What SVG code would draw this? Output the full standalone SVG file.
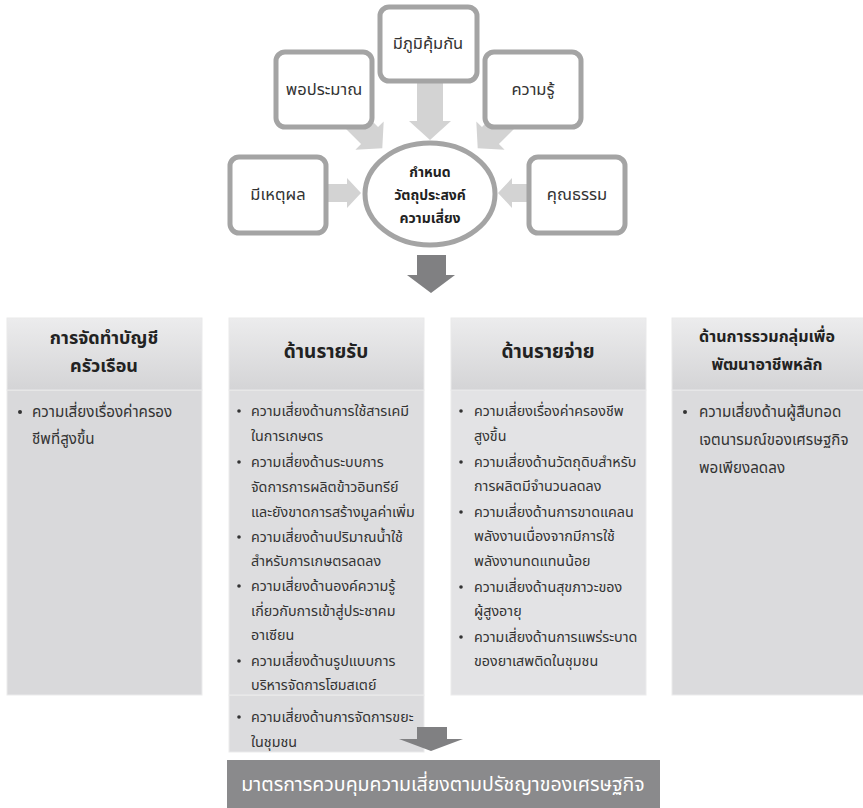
<svg xmlns="http://www.w3.org/2000/svg" width="863" height="808" viewBox="0 0 863 808">
<defs>
<linearGradient id="hdr" x1="0" y1="0" x2="0" y2="1">
<stop offset="0" stop-color="#ececed"/>
<stop offset="1" stop-color="#d4d4d6"/>
</linearGradient>
</defs>
<style>
.box{fill:#fff;stroke:#a4a4a4;stroke-width:5}
.lbl{font-family:"Noto Sans Thai","Noto Sans",sans-serif;font-size:16.5px;fill:#333;text-anchor:middle}
.ctr{font-family:"Noto Sans Thai","Noto Sans",sans-serif;font-size:14px;font-weight:bold;fill:#222;text-anchor:middle}
.la{fill:#d3d3d3}
.da{fill:#808082}
.hd{fill:url(#hdr);stroke:#e9e9ea;stroke-width:1}
.hdt{font-family:"Noto Sans Thai","Noto Sans",sans-serif;font-size:18px;font-weight:bold;fill:#222;text-anchor:middle}
.hdt3{font-family:"Noto Sans Thai","Noto Sans",sans-serif;font-size:19px;font-weight:bold;fill:#222;text-anchor:middle}
.hdt2{font-family:"Noto Sans Thai","Noto Sans",sans-serif;font-size:16px;font-weight:bold;fill:#222;text-anchor:middle}
.bt{font-family:"Noto Sans Thai","Noto Sans",sans-serif;font-size:14.3px;fill:#333}
.bt2{font-family:"Noto Sans Thai","Noto Sans",sans-serif;font-size:15.2px;fill:#333}
.bar{font-family:"Noto Sans Thai","Noto Sans",sans-serif;font-size:19.5px;fill:#fff;text-anchor:middle}
</style>

<g id="col-income-extra">
<rect x="229" y="695" width="195" height="57" fill="#dcdcde" stroke="#ebebec" stroke-width="1"/>
<g class="bt">
<circle cx="239" cy="717" r="1.8" fill="#333"/>
<text x="251" y="722">ความเสี่ยงด้านการจัดการขยะ</text>
<text x="251" y="747">ในชุมชน</text>
</g>
</g>

<g id="connectors">
<path class="la" d="M417,78 H443 V121 H451 L430,140 L409,121 H417 Z"/>
<path class="la" transform="translate(354,120) rotate(-45)" d="M-12,0 H12 V22 H20 L0,40 L-20,22 H-12 Z"/>
<path class="la" transform="translate(506,120) rotate(45)" d="M-12,0 H12 V22 H20 L0,40 L-20,22 H-12 Z"/>
<path class="la" d="M324,184 H347 V178 L361,193 L347,208 V202 H324 Z"/>
<path class="la" d="M532,184 H512 V178 L498,193 L512,208 V202 H532 Z"/>
<path class="da" d="M417,255 H446 V275 H455 L431,293 L407,275 H417 Z"/>
<path class="da" d="M417,727 H447 V739 H463 L431,751 L399,739 H417 Z"/>
</g>

<g id="node-porpraman">
<rect class="box" x="276" y="52" width="96" height="75" rx="9"/>
<text class="lbl" x="324" y="95">พอประมาณ</text>
</g>
<g id="node-mipumkumkan">
<rect class="box" x="380" y="7" width="97" height="74" rx="9"/>
<text class="lbl" x="428" y="49">มีภูมิคุ้มกัน</text>
</g>
<g id="node-khwamru">
<rect class="box" x="485" y="52" width="96" height="75" rx="9"/>
<text class="lbl" x="533" y="95">ความรู้</text>
</g>
<g id="node-mihetphon">
<rect class="box" x="230" y="157" width="96" height="76" rx="9"/>
<text class="lbl" x="278" y="200">มีเหตุผล</text>
</g>
<g id="node-khunnatham">
<rect class="box" x="529" y="157" width="96" height="76" rx="9"/>
<text class="lbl" x="577" y="200">คุณธรรม</text>
</g>
<g id="node-center">
<ellipse cx="430" cy="194" rx="65" ry="51" fill="#fff" stroke="#a4a4a4" stroke-width="5"/>
<text class="ctr" x="430" y="177">กำหนด</text>
<text class="ctr" x="430" y="200">วัตถุประสงค์</text>
<text class="ctr" x="430" y="223">ความเสี่ยง</text>
</g>

<g id="col-account">
<rect x="7" y="390" width="195" height="305" fill="#d9d9db" stroke="#ebebec" stroke-width="1"/>
<rect class="hd" x="7" y="318" width="195" height="72"/>
<text class="hdt" x="104" y="344">การจัดทำบัญชี</text>
<text class="hdt" x="104" y="372">ครัวเรือน</text>
<circle cx="20" cy="412" r="2" fill="#333"/>
<text class="bt2" x="32" y="417">ความเสี่ยงเรื่องค่าครอง</text>
<text class="bt2" x="32" y="444">ชีพที่สูงขึ้น</text>
</g>

<g id="col-income">
<rect x="229" y="390" width="195" height="305" fill="#dddddf" stroke="#ebebec" stroke-width="1"/>
<rect class="hd" x="229" y="318" width="195" height="72"/>
<text class="hdt3" x="326" y="358">ด้านรายรับ</text>
<g class="bt">
<circle cx="239" cy="411" r="1.8" fill="#333"/>
<text x="251" y="416">ความเสี่ยงด้านการใช้สารเคมี</text>
<text x="251" y="441">ในการเกษตร</text>
<circle cx="239" cy="462" r="1.8" fill="#333"/>
<text x="251" y="467">ความเสี่ยงด้านระบบการ</text>
<text x="251" y="492">จัดการการผลิตข้าวอินทรีย์</text>
<text x="251" y="517">และยังขาดการสร้างมูลค่าเพิ่ม</text>
<circle cx="239" cy="537" r="1.8" fill="#333"/>
<text x="251" y="542">ความเสี่ยงด้านปริมาณน้ำใช้</text>
<text x="251" y="566">สำหรับการเกษตรลดลง</text>
<circle cx="239" cy="586" r="1.8" fill="#333"/>
<text x="251" y="591">ความเสี่ยงด้านองค์ความรู้</text>
<text x="251" y="616">เกี่ยวกับการเข้าสู่ประชาคม</text>
<text x="251" y="640">อาเซียน</text>
<circle cx="239" cy="661" r="1.8" fill="#333"/>
<text x="251" y="666">ความเสี่ยงด้านรูปแบบการ</text>
<text x="251" y="690">บริหารจัดการโฮมสเตย์</text>
</g>
</g>

<g id="col-expense">
<rect x="451" y="390" width="195" height="305" fill="#e3e3e5" stroke="#ebebec" stroke-width="1"/>
<rect class="hd" x="451" y="318" width="195" height="72"/>
<text class="hdt3" x="548" y="358">ด้านรายจ่าย</text>
<g class="bt">
<circle cx="461" cy="411" r="1.8" fill="#333"/>
<text x="474" y="416">ความเสี่ยงเรื่องค่าครองชีพ</text>
<text x="474" y="441">สูงขึ้น</text>
<circle cx="461" cy="462" r="1.8" fill="#333"/>
<text x="474" y="467">ความเสี่ยงด้านวัตถุดิบสำหรับ</text>
<text x="474" y="491">การผลิตมีจำนวนลดลง</text>
<circle cx="461" cy="512" r="1.8" fill="#333"/>
<text x="474" y="517">ความเสี่ยงด้านการขาดแคลน</text>
<text x="474" y="541">พลังงานเนื่องจากมีการใช้</text>
<text x="474" y="566">พลังงานทดแทนน้อย</text>
<circle cx="461" cy="587" r="1.8" fill="#333"/>
<text x="474" y="592">ความเสี่ยงด้านสุขภาวะของ</text>
<text x="474" y="616">ผู้สูงอายุ</text>
<circle cx="461" cy="637" r="1.8" fill="#333"/>
<text x="474" y="642">ความเสี่ยงด้านการแพร่ระบาด</text>
<text x="474" y="666">ของยาเสพติดในชุมชน</text>
</g>
</g>

<g id="col-group">
<rect x="672" y="390" width="195" height="305" fill="#dbdbdd" stroke="#ebebec" stroke-width="1"/>
<rect class="hd" x="672" y="318" width="195" height="72"/>
<text class="hdt2" x="767" y="342">ด้านการรวมกลุ่มเพื่อ</text>
<text class="hdt2" x="767" y="370">พัฒนาอาชีพหลัก</text>
<circle cx="685" cy="412" r="2" fill="#333"/>
<text class="bt2" x="699" y="417">ความเสี่ยงด้านผู้สืบทอด</text>
<text class="bt2" x="699" y="445">เจตนารมณ์ของเศรษฐกิจ</text>
<text class="bt2" x="699" y="473">พอเพียงลดลง</text>
</g>

<g id="node-measures">
<rect x="227" y="760" width="433" height="48" fill="#8a8a8c"/>
<text class="bar" x="443" y="791">มาตรการควบคุมความเสี่ยงตามปรัชญาของเศรษฐกิจ</text>
</g>
</svg>
